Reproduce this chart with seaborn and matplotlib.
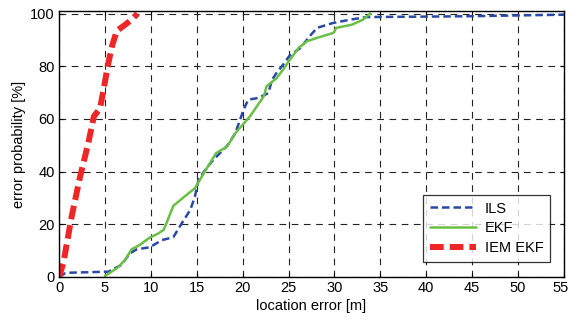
import matplotlib
matplotlib.use("Agg")
import matplotlib.pyplot as plt
import matplotlib.transforms as mtransforms
import seaborn as sns
import pandas as pd

ils_x = [0.0, 0.65, 0.83, 3.0, 5.04, 5.37, 6.8, 7.73, 8.46, 9.9, 11.2, 12.45, 13.3, 14.3, 14.8,
         15.2, 15.9, 16.8, 17.9, 18.4, 19.2, 20.1, 20.6, 21.7, 22.8, 23.2, 23.7, 24.4, 25.1,
         26.3, 27.3, 28.1, 29.9, 31.7, 33.5, 44.4, 55.0]
ils_y = [0.0, 1.4, 1.6, 1.8, 2.0, 2.0, 4.6, 9.0, 10.5, 11.3, 14.0, 15.1, 20.0, 25.5, 30.5,
         36.9, 40.5, 44.5, 48.3, 50.2, 54.6, 63.5, 67.3, 68.0, 69.8, 74.9, 77.5, 80.6, 84.0,
         87.0, 91.4, 94.6, 96.5, 97.7, 98.7, 99.0, 99.6]

ekf_x = [5.0, 6.3, 7.2, 7.9, 8.8, 9.9, 10.8, 11.4, 11.7, 12.45, 13.0, 13.9, 14.8, 15.4, 16.1,
         17.1, 18.3, 19.2, 20.8, 22.3, 22.6, 23.7, 24.4, 25.0, 26.1, 27.0, 28.1, 29.9, 30.2,
         31.9, 33.1, 33.9]
ekf_y = [0.4, 3.3, 6.5, 10.5, 12.2, 15.0, 16.5, 17.9, 20.4, 27.0, 28.6, 31.2, 33.7, 37.2, 41.3,
         47.0, 49.5, 54.6, 61.0, 68.6, 72.4, 75.5, 78.7, 81.8, 87.0, 89.5, 90.8, 92.7, 94.6,
         95.8, 97.7, 100.0]

iem_x = [0.0, 0.47, 1.38, 2.29, 3.2, 3.8, 4.47, 4.9, 5.3, 5.8, 6.3, 7.1, 7.9, 8.55]
iem_y = [0.0, 5.2, 23.0, 38.0, 51.0, 61.0, 64.0, 72.0, 80.0, 88.0, 93.5, 95.5, 97.7, 100.0]

x_ticks = list(range(0, 56, 5))
y_ticks = [0, 20, 40, 60, 80, 100]
labels = ["ILS", "EKF", "IEM EKF"]

sns.set_theme(style="white")
plt.rcParams["font.family"] = ["Liberation Sans", "DejaVu Sans"]

fig = plt.figure(figsize=(5.70, 3.21), dpi=100)
ax = fig.add_axes([59/570, 1-277/321, (564-59)/570, (277-11)/321])

d_ils = pd.DataFrame({"x": ils_x, "y": ils_y})
d_ekf = pd.DataFrame({"x": ekf_x, "y": ekf_y})
d_iem = pd.DataFrame({"x": iem_x, "y": iem_y})

sns.lineplot(data=d_ils, x="x", y="y", ax=ax, sort=False, color="#2a49a6", lw=1.8,
             linestyle=(0, (3.0, 1.6)), label=labels[0])
sns.lineplot(data=d_ekf, x="x", y="y", ax=ax, sort=False, color="#6abf45", lw=1.8,
             linestyle="-", label=labels[1])
sns.lineplot(data=d_iem, x="x", y="y", ax=ax, sort=False, color="#ee2626", lw=4.3,
             linestyle=(0, (2.3, 1.0)), label=labels[2])

ax.set_xlim(0, 55)
ax.set_ylim(0, 101)
ax.set_xticks(x_ticks)
ax.set_yticks(y_ticks)
ax.tick_params(direction="in", length=3, width=0.8, colors="black", labelsize=10.5,
               top=True, right=True, bottom=True, left=True, pad=3)
ax.grid(True, color="#222222", linestyle=(0, (6, 5)), linewidth=0.8)
for s in ax.spines.values():
    s.set_color("black")
    s.set_linewidth(1.0)
ax.set_xlabel("location error [m]", fontsize=10.5, color="black", labelpad=3)
ax.set_ylabel("error probability [%]", fontsize=10.5, color="black", labelpad=3)

# nudge the last x tick label so it stays inside the canvas
last = ax.get_xticklabels()[-1]
last.set_transform(last.get_transform() + mtransforms.ScaledTranslation(-3/100, 0, fig.dpi_scale_trans))

leg = ax.legend(loc="upper left", bbox_to_anchor=((423-59)/505, (277-195)/266),
                fontsize=10.5, frameon=True, fancybox=False, handlelength=3.2,
                borderpad=0.45, labelspacing=0.4, handletextpad=0.6, borderaxespad=0)
leg.get_frame().set_edgecolor("black")
leg.get_frame().set_linewidth(0.9)
for t in leg.get_texts():
    t.set_color("black")

fig.savefig("out.png", dpi=100)
